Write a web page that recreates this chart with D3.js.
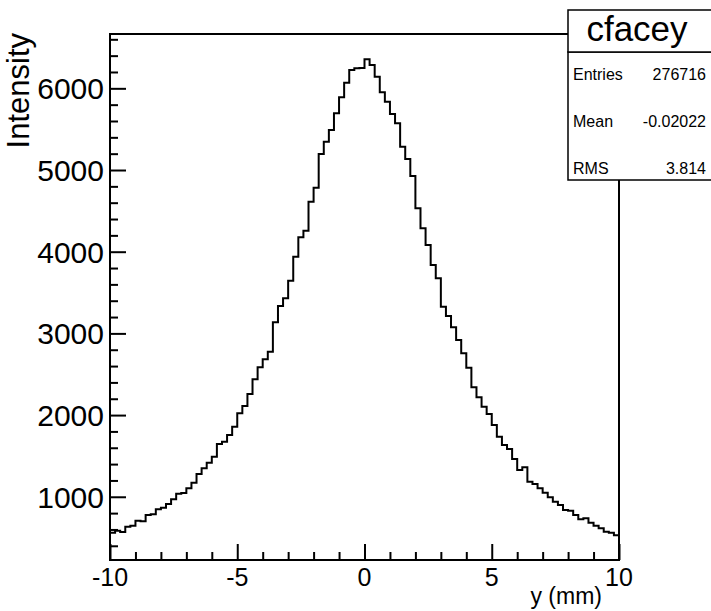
<!DOCTYPE html>
<html>
<head>
<meta charset="utf-8">
<script src="https://cdn.jsdelivr.net/npm/d3@7"></script>
<style>
  body { margin: 0; background: #fff; }
  text { font-family: "Liberation Sans", Arial, Helvetica, sans-serif; fill: #000; }
</style>
</head>
<body>
<svg width="711" height="611"></svg>
<script>
var width = 711;
var height = 611;

// histogram cfacey: 100 bins from -10 to 10
var binEdges = [-10, 10];
var binValues = [
  561, 585, 569, 634, 646, 707, 700, 777, 786, 847,
  867, 912, 969, 1038, 1046, 1104, 1173, 1279, 1349, 1417,
  1491, 1646, 1674, 1756, 1858, 2022, 2111, 2258, 2438, 2585,
  2683, 2776, 3136, 3335, 3430, 3645, 3939, 4176, 4257, 4612,
  4783, 5196, 5346, 5490, 5694, 5890, 6069, 6224, 6245, 6250,
  6355, 6285, 6142, 5951, 5836, 5685, 5572, 5285, 5135, 4927,
  4531, 4286, 4082, 3837, 3674, 3327, 3213, 3075, 2919, 2756,
  2580, 2340, 2218, 2103, 2013, 1880, 1736, 1634, 1585, 1463,
  1328, 1361, 1185, 1157, 1104, 1050, 994, 940, 900, 838,
  830, 777, 725, 737, 683, 646, 614, 573, 561, 529
];
var xTicks = [-10, -5, 0, 5, 10];
var yTicks = [1000, 2000, 3000, 4000, 5000, 6000];
var yRange = [226, 6665];
var statsNames = ["Entries", "Mean", "RMS"];
var statsValues = ["276716", "-0.02022", "3.814"];

var padLeft = 110, padRight = 619, padTop = 34, padBottom = 560;

var xScale =
  d3.scaleLinear()
    .domain(binEdges)
    .range([padLeft, padRight]);

var yScale =
  d3.scaleLinear()
    .domain(yRange)
    .range([padBottom, padTop]);

var svg = d3.select("svg");

svg
  .append("rect")
    .attr("width", width)
    .attr("height", height)
    .attr("fill", "#fff");

// Histogram outline
var binWidth = (binEdges[1] - binEdges[0]) / binValues.length;
var pts = [];
binValues.forEach(function(v, i) {
  pts.push([binEdges[0] + i * binWidth, v]);
  pts.push([binEdges[0] + (i + 1) * binWidth, v]);
});

var line = d3.line()
  .x(d => xScale(d[0]))
  .y(d => yScale(d[1]));

svg
  .append("path")
    .attr("d", line(pts))
    .attr("fill", "none")
    .attr("stroke", "#000")
    .attr("stroke-width", 2);

// Frame
svg
  .append("rect")
    .attr("x", padLeft)
    .attr("y", padTop)
    .attr("width", padRight - padLeft)
    .attr("height", padBottom - padTop)
    .attr("fill", "none")
    .attr("stroke", "#000")
    .attr("stroke-width", 2);

// X axis ticks (pointing up into the frame)
var xAxis =
  d3.axisTop(xScale)
    .tickValues(d3.range(-10, 10.001, 1))
    .tickSize(8)
    .tickFormat("")
    .tickSizeOuter(0);

var gx = svg
  .append("g")
    .attr("transform", `translate(0, ${padBottom})`)
    .call(xAxis);
gx.select(".domain").remove();
gx.selectAll(".tick line")
  .attr("stroke", "#000")
  .attr("stroke-width", 2)
  .attr("y2", d => (d % 5 === 0 ? -16 : -8));

svg
  .selectAll(".xlabel")
  .data(xTicks)
  .enter()
  .append("text")
    .attr("class", "xlabel")
    .attr("x", d => xScale(d))
    .attr("y", 586)
    .style("text-anchor", "middle")
    .style("font-size", "25px")
    .text(d => d);

// Y axis ticks (pointing right into the frame)
var minorY = d3.range(400, yRange[1], 200);
var yAxis =
  d3.axisRight(yScale)
    .tickValues(minorY)
    .tickFormat("")
    .tickSizeOuter(0);

var gy = svg
  .append("g")
    .attr("transform", `translate(${padLeft}, 0)`)
    .call(yAxis);
gy.select(".domain").remove();
gy.selectAll(".tick line")
  .attr("stroke", "#000")
  .attr("stroke-width", 2)
  .attr("x2", d => (d % 1000 === 0 ? 16 : 8));

svg
  .selectAll(".ylabel")
  .data(yTicks)
  .enter()
  .append("text")
    .attr("class", "ylabel")
    .attr("x", 104)
    .attr("y", d => yScale(d))
    .attr("dy", "0.36em")
    .style("text-anchor", "end")
    .style("font-size", "30px")
    .text(d => d);

// Axis titles
svg
  .append("text")
    .attr("x", 602)
    .attr("y", 604)
    .style("text-anchor", "end")
    .style("font-size", "23px")
    .text("y (mm)");

svg
  .append("text")
    .attr("transform", "rotate(-90)")
    .attr("x", -33)
    .attr("y", 29)
    .style("text-anchor", "end")
    .style("font-size", "31px")
    .text("Intensity");

// Stats box
var box = svg.append("g");
box
  .append("rect")
    .attr("x", 568)
    .attr("y", 52)
    .attr("width", 160)
    .attr("height", 128)
    .attr("fill", "#fff")
    .attr("stroke", "#000")
    .attr("stroke-width", 1.5);
box
  .append("rect")
    .attr("x", 568)
    .attr("y", 10)
    .attr("width", 160)
    .attr("height", 42)
    .attr("fill", "#fff")
    .attr("stroke", "#000")
    .attr("stroke-width", 1.5);
box
  .append("text")
    .attr("x", 637)
    .attr("y", 41)
    .style("text-anchor", "middle")
    .style("font-size", "35px")
    .text("cfacey");

var rowY = [80, 127, 174];
box
  .selectAll(".sname")
  .data(statsNames)
  .enter()
  .append("text")
    .attr("x", 573)
    .attr("y", (d, i) => rowY[i])
    .style("font-size", "16px")
    .text(d => d);
box
  .selectAll(".sval")
  .data(statsValues)
  .enter()
  .append("text")
    .attr("x", 706)
    .attr("y", (d, i) => rowY[i])
    .style("text-anchor", "end")
    .style("font-size", "16px")
    .text(d => d);
</script>
</body>
</html>
